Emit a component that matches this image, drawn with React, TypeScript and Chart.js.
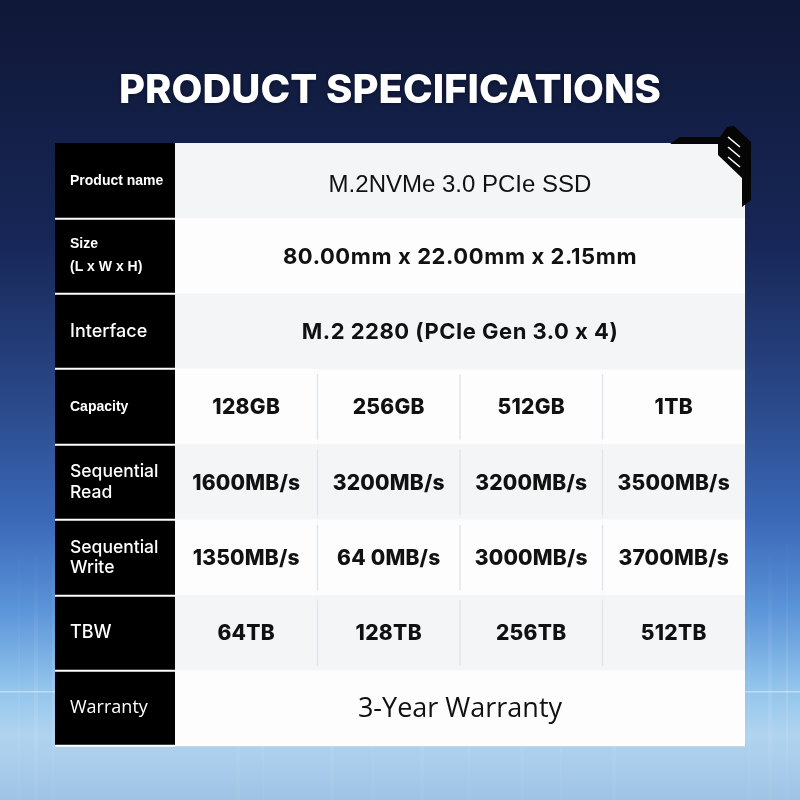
import React, { useEffect, useRef } from "react";
import { Chart, registerables } from "chart.js";

Chart.register(...registerables);

// ---------- data ----------
const titleText = "PRODUCT SPECIFICATIONS";
const rowLabels: (string | string[])[] = [
  "Product name",
  ["Size", "(L x W x H)"],
  "Interface",
  "Capacity",
  ["Sequential", "Read"],
  ["Sequential", "Write"],
  "TBW",
  "Warranty",
];
const productName = ["M.2NVMe 3.0 PCIe SSD"];
const sizeSpec = ["80.00mm x 22.00mm x 2.15mm"];
const interfaceSpec = ["M.2 2280 (PCIe Gen 3.0 x 4)"];
const capacities = ["128GB", "256GB", "512GB", "1TB"];
const seqRead = ["1600MB/s", "3200MB/s", "3200MB/s", "3500MB/s"];
const seqWrite = ["1350MB/s", "64 0MB/s", "3000MB/s", "3700MB/s"];
const tbw = ["64TB", "128TB", "256TB", "512TB"];
const warranty = ["3-Year Warranty"];

const rowValues: string[][] = [
  productName,
  sizeSpec,
  interfaceSpec,
  capacities,
  seqRead,
  seqWrite,
  tbw,
  warranty,
];
const columnCount = capacities.length;

// ---------- styles ----------
const labelFonts = [
  { family: "'Liberation Sans', Arial, sans-serif", size: 14, weight: "bold", lineHeight: 1.2 },
  { family: "'Liberation Sans', Arial, sans-serif", size: 14, weight: "bold", lineHeight: 1.65 },
  { family: "Inter, sans-serif", size: 18, weight: "500", lineHeight: 1.2 },
  { family: "'Liberation Sans', Arial, sans-serif", size: 14, weight: "bold", lineHeight: 1.2 },
  { family: "Inter, sans-serif", size: 17.5, weight: "500", lineHeight: 1.15 },
  { family: "Inter, sans-serif", size: 17.5, weight: "500", lineHeight: 1.15 },
  { family: "Inter, sans-serif", size: 18, weight: "500", lineHeight: 1.2 },
  { family: "'Open Sans', sans-serif", size: 18, weight: "400", lineHeight: 1.2 },
];
const valueFonts = [
  { font: "400 24px 'Liberation Sans', Arial, sans-serif", spacing: "0px", dy: 5 },
  { font: "700 22px Inter, sans-serif", spacing: "0.6px", dy: 1 },
  { font: "700 22px Inter, sans-serif", spacing: "0.5px", dy: 1 },
  { font: "800 21px Inter, sans-serif", spacing: "0.3px", dy: 1 },
  { font: "800 21px Inter, sans-serif", spacing: "0.2px", dy: 1 },
  { font: "800 21px Inter, sans-serif", spacing: "0.2px", dy: 1 },
  { font: "800 21px Inter, sans-serif", spacing: "0.3px", dy: 1 },
  { font: "400 27px 'Open Sans', sans-serif", spacing: "0px", dy: 1 },
];
const rowFills = ["#f4f5f7", "#fdfdfd"];
const labelColumnWidth = 120;
const labelInset = 15;
const streakXs = [18, 34, 52, 236, 262, 330, 372, 420, 468, 520, 560, 612, 748, 768, 786];

function makeDatasets() {
  const sets = [];
  for (let c = 0; c < columnCount; c++) {
    sets.push({
      label: "col" + c,
      data: rowValues.map((vals) =>
        vals.length === 1 ? (c === 0 ? [0, columnCount] : null) : c < vals.length ? [c, c + 1] : null
      ),
      grouped: false,
      barPercentage: 1,
      categoryPercentage: 1,
      borderWidth: 0,
      backgroundColor: (ctx: any) => rowFills[ctx.dataIndex % 2],
    });
  }
  return sets;
}

const tablePlugin = {
  id: "tablePlugin",
  beforeDraw(chart: any) {
    const { ctx, width, height, chartArea } = chart;
    ctx.save();
    const g = ctx.createLinearGradient(0, 0, 0, height);
    g.addColorStop(0, "#0f1736");
    g.addColorStop(0.3, "#172656");
    g.addColorStop(0.5, "#2a4888");
    g.addColorStop(0.65, "#3b69b8");
    g.addColorStop(0.76, "#5a93d8");
    g.addColorStop(0.86, "#92c4ec");
    g.addColorStop(0.92, "#b0d4ef");
    g.addColorStop(1, "#9fc3e4");
    ctx.fillStyle = g;
    ctx.fillRect(0, 0, width, height);
    // soft vertical light streaks in the lower part
    streakXs.forEach((x, i) => {
      const sg = ctx.createLinearGradient(0, 540, 0, height);
      sg.addColorStop(0, "rgba(255,255,255,0)");
      sg.addColorStop(0.6, "rgba(255,255,255," + (0.06 + (i % 3) * 0.03) + ")");
      sg.addColorStop(1, "rgba(255,255,255,0.03)");
      ctx.fillStyle = sg;
      ctx.fillRect(x, 540, 2 + (i % 2) * 2, height - 540);
    });
    // faint light line near bottom
    ctx.fillStyle = "rgba(255,255,255,0.4)";
    ctx.fillRect(0, 691, width, 1.5);
    // title
    ctx.fillStyle = "#ffffff";
    ctx.font = "800 40px Inter, sans-serif";
    ctx.textAlign = "center";
    ctx.textBaseline = "alphabetic";
    ctx.shadowColor = "rgba(0,0,0,0.5)";
    ctx.shadowBlur = 4;
    ctx.fillText(titleText, 390, 103);
    ctx.shadowBlur = 0;
    // black label column
    ctx.fillStyle = "#000000";
    ctx.fillRect(
      chartArea.left - labelColumnWidth,
      chartArea.top,
      labelColumnWidth,
      chartArea.bottom - chartArea.top
    );
    ctx.restore();
  },
  afterDatasetsDraw(chart: any) {
    const { ctx } = chart;
    const xs = chart.scales.x;
    const ys = chart.scales.y;
    const half = (ys.getPixelForValue(1) - ys.getPixelForValue(0)) / 2;
    ctx.save();
    // column separators
    ctx.strokeStyle = "#e2e5ea";
    ctx.lineWidth = 1.5;
    rowValues.forEach((vals, r) => {
      if (vals.length < 2) return;
      const cy = ys.getPixelForValue(r);
      for (let c = 1; c < vals.length; c++) {
        const x = xs.getPixelForValue(c);
        ctx.beginPath();
        ctx.moveTo(x, cy - half + 5);
        ctx.lineTo(x, cy + half - 5);
        ctx.stroke();
      }
    });
    // cell texts
    ctx.fillStyle = "#111111";
    ctx.textAlign = "center";
    ctx.textBaseline = "middle";
    for (let c = 0; c < columnCount; c++) {
      const meta = chart.getDatasetMeta(c);
      meta.data.forEach((el: any, r: number) => {
        const text = rowValues[r][c];
        if (!text) return;
        const p = el.getCenterPoint();
        ctx.font = valueFonts[r].font;
        ctx.letterSpacing = valueFonts[r].spacing;
        ctx.fillText(text, p.x, p.y + valueFonts[r].dy);
      });
    }
    ctx.letterSpacing = "0px";
    ctx.restore();
  },
  afterDraw(chart: any) {
    const { ctx, chartArea } = chart;
    const R = chartArea.right;
    const T = chartArea.top;
    const pts = [
      [-75, 1], [-65, -6], [-25, -6], [-18, -16], [-11, -17], [6, -1],
      [6, 57], [-3, 64], [-3, 35], [-27, 12], [-27, 1],
    ];
    ctx.save();
    ctx.fillStyle = "#050505";
    ctx.beginPath();
    pts.forEach(([dx, dy], i) => (i ? ctx.lineTo(R + dx, T + dy) : ctx.moveTo(R + dx, T + dy)));
    ctx.closePath();
    ctx.fill();
    ctx.strokeStyle = "#ffffff";
    ctx.lineWidth = 1.6;
    for (let k = 0; k < 3; k++) {
      ctx.beginPath();
      ctx.moveTo(R - 17, T - 6 + k * 10);
      ctx.lineTo(R - 5, T + 4 + k * 10);
      ctx.stroke();
    }
    ctx.restore();
  },
};

export default function App() {
  const ref = useRef<HTMLCanvasElement | null>(null);
  useEffect(() => {
    if (!ref.current) return;
    const chart = new Chart(ref.current, {
      type: "bar",
      data: { labels: rowLabels as any, datasets: makeDatasets() as any },
      options: {
        animation: false,
        responsive: false,
        devicePixelRatio: 1,
        events: [],
        indexAxis: "y",
        layout: { padding: { left: 55 + labelInset, right: 55, top: 143, bottom: 54 } },
        plugins: { legend: { display: false }, tooltip: { enabled: false }, title: { display: false } },
        scales: {
          x: { type: "linear", min: 0, max: columnCount, display: false },
          y: {
            type: "category",
            offset: true,
            z: 1,
            afterFit: (scale: any) => {
              scale.width = labelColumnWidth - labelInset;
            },
            border: { display: false },
            grid: {
              offset: true,
              lineWidth: 1.5,
              tickWidth: 2,
              tickLength: labelColumnWidth,
              color: (ctx: any) =>
                ctx.index === 0 || ctx.index === rowLabels.length ? "rgba(0,0,0,0)" : "#dcdfe4",
              tickColor: (ctx: any) =>
                ctx.index === 0 || ctx.index === rowLabels.length ? "rgba(0,0,0,0)" : "#ffffff",
            },
            ticks: {
              crossAlign: "far",
              padding: 0,
              color: "#ffffff",
              autoSkip: false,
              font: (ctx: any) => labelFonts[ctx.index] as any,
            },
          },
        },
      } as any,
      plugins: [tablePlugin],
    });
    return () => chart.destroy();
  }, []);
  return (
    <div style={{ position: "absolute", left: 0, top: 0, width: 800, height: 800 }}>
      <canvas ref={ref} width={800} height={800} style={{ display: "block" }} />
    </div>
  );
}
